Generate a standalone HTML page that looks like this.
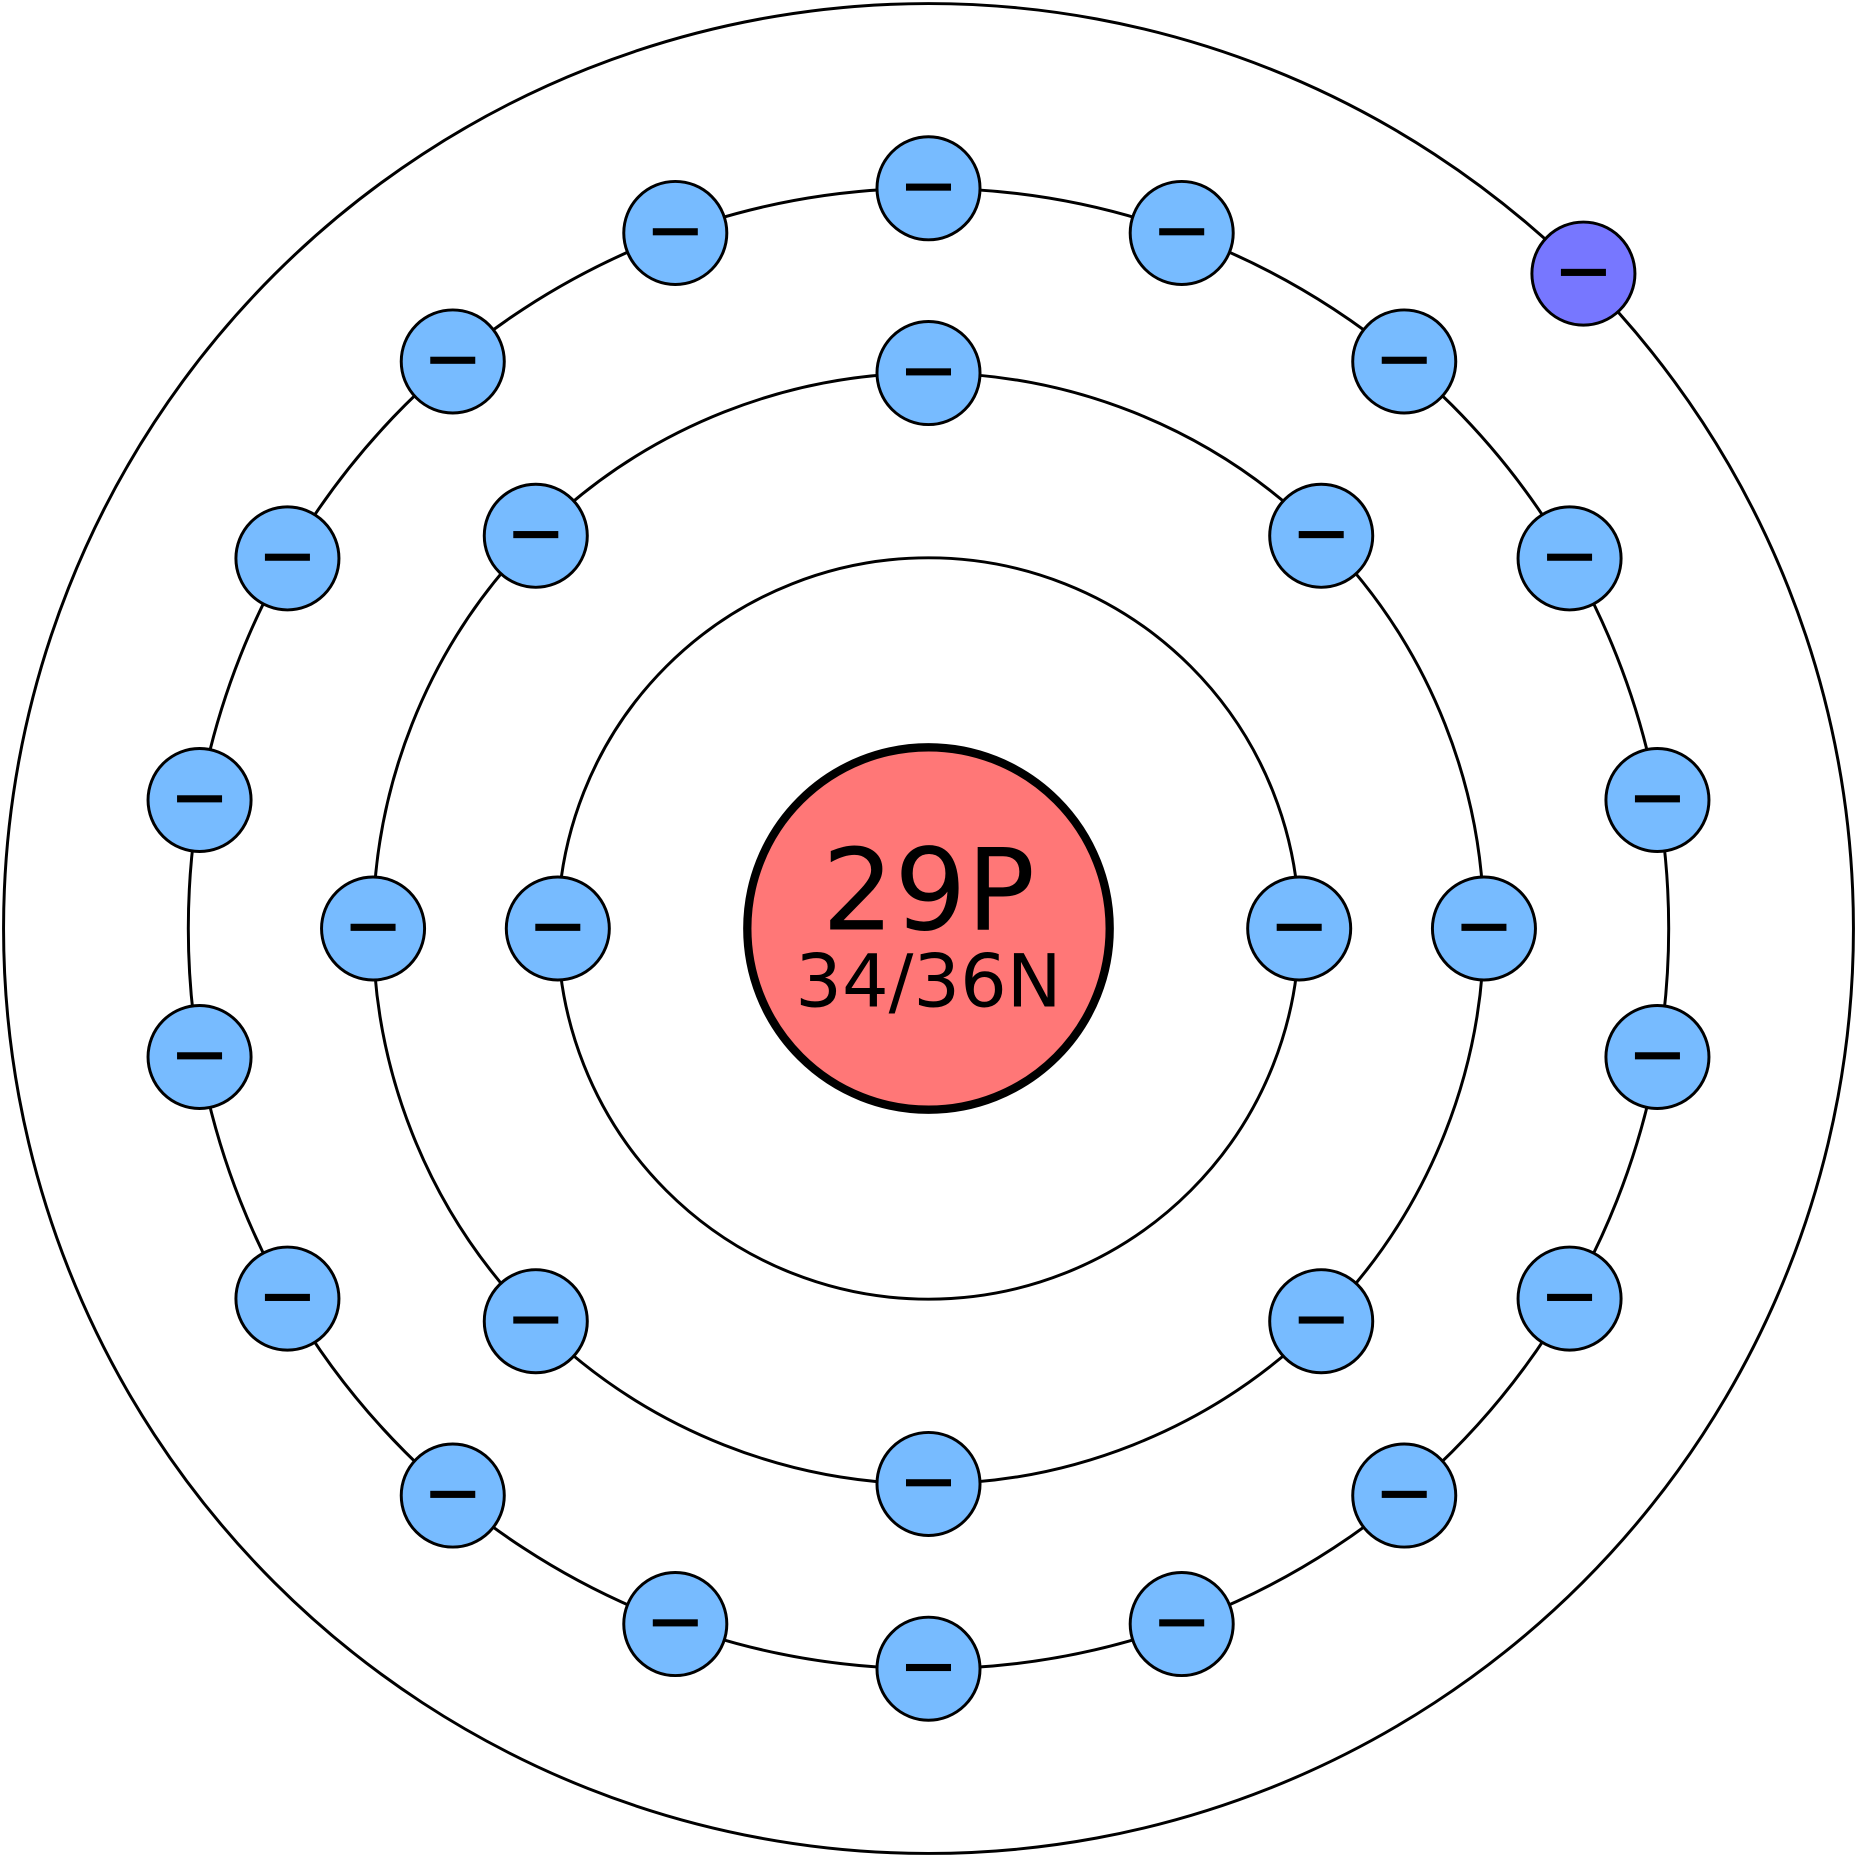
<!DOCTYPE html>
<html><head><meta charset="utf-8"><style>html,body{margin:0;padding:0;background:#fff}svg{display:block}</style></head>
<body>
<svg width="1857" height="1857" viewBox="0 0 1568 1568" xmlns="http://www.w3.org/2000/svg">
<g fill="none" stroke="#000" stroke-width="2.5">
<circle cx="784" cy="784" r="781"/>
<circle cx="784" cy="784" r="625"/>
<circle cx="784" cy="784" r="469"/>
<circle cx="784" cy="784" r="313"/>
</g>
<circle cx="784" cy="784" r="153" fill="#ff7777" stroke="#000" stroke-width="7"/>
<text x="784" y="785" text-anchor="middle" font-family="DejaVu Sans, Liberation Sans, sans-serif" font-size="96">29P</text>
<text x="784" y="850" text-anchor="middle" font-family="DejaVu Sans, Liberation Sans, sans-serif" font-size="62">34/36N</text>
<g stroke="#000" stroke-width="2.5" fill="#77bbff">
<g transform="translate(471,784)"><circle r="43.5"/><rect x="-19" y="-4" width="38" height="6" fill="#000" stroke="none"/></g>
<g transform="translate(1097,784)"><circle r="43.5"/><rect x="-19" y="-4" width="38" height="6" fill="#000" stroke="none"/></g>
<g transform="translate(784,315)"><circle r="43.5"/><rect x="-19" y="-4" width="38" height="6" fill="#000" stroke="none"/></g>
<g transform="translate(784,1253)"><circle r="43.5"/><rect x="-19" y="-4" width="38" height="6" fill="#000" stroke="none"/></g>
<g transform="translate(315,784)"><circle r="43.5"/><rect x="-19" y="-4" width="38" height="6" fill="#000" stroke="none"/></g>
<g transform="translate(1253,784)"><circle r="43.5"/><rect x="-19" y="-4" width="38" height="6" fill="#000" stroke="none"/></g>
<g transform="translate(452.4,452.4)"><circle r="43.5"/><rect x="-19" y="-4" width="38" height="6" fill="#000" stroke="none"/></g>
<g transform="translate(1115.6,452.4)"><circle r="43.5"/><rect x="-19" y="-4" width="38" height="6" fill="#000" stroke="none"/></g>
<g transform="translate(452.4,1115.6)"><circle r="43.5"/><rect x="-19" y="-4" width="38" height="6" fill="#000" stroke="none"/></g>
<g transform="translate(1115.6,1115.6)"><circle r="43.5"/><rect x="-19" y="-4" width="38" height="6" fill="#000" stroke="none"/></g>
<g transform="translate(784,159)"><circle r="43.5"/><rect x="-19" y="-4" width="38" height="6" fill="#000" stroke="none"/></g>
<g transform="translate(784,1409)"><circle r="43.5"/><rect x="-19" y="-4" width="38" height="6" fill="#000" stroke="none"/></g>
<g transform="translate(168.5,675.5)"><circle r="43.5"/><rect x="-19" y="-4" width="38" height="6" fill="#000" stroke="none"/></g>
<g transform="translate(1399.5,675.5)"><circle r="43.5"/><rect x="-19" y="-4" width="38" height="6" fill="#000" stroke="none"/></g>
<g transform="translate(168.5,892.5)"><circle r="43.5"/><rect x="-19" y="-4" width="38" height="6" fill="#000" stroke="none"/></g>
<g transform="translate(1399.5,892.5)"><circle r="43.5"/><rect x="-19" y="-4" width="38" height="6" fill="#000" stroke="none"/></g>
<g transform="translate(242.7,471.5)"><circle r="43.5"/><rect x="-19" y="-4" width="38" height="6" fill="#000" stroke="none"/></g>
<g transform="translate(1325.3,471.5)"><circle r="43.5"/><rect x="-19" y="-4" width="38" height="6" fill="#000" stroke="none"/></g>
<g transform="translate(242.7,1096.5)"><circle r="43.5"/><rect x="-19" y="-4" width="38" height="6" fill="#000" stroke="none"/></g>
<g transform="translate(1325.3,1096.5)"><circle r="43.5"/><rect x="-19" y="-4" width="38" height="6" fill="#000" stroke="none"/></g>
<g transform="translate(382.3,305.2)"><circle r="43.5"/><rect x="-19" y="-4" width="38" height="6" fill="#000" stroke="none"/></g>
<g transform="translate(1185.7,305.2)"><circle r="43.5"/><rect x="-19" y="-4" width="38" height="6" fill="#000" stroke="none"/></g>
<g transform="translate(382.3,1262.8)"><circle r="43.5"/><rect x="-19" y="-4" width="38" height="6" fill="#000" stroke="none"/></g>
<g transform="translate(1185.7,1262.8)"><circle r="43.5"/><rect x="-19" y="-4" width="38" height="6" fill="#000" stroke="none"/></g>
<g transform="translate(570.2,196.7)"><circle r="43.5"/><rect x="-19" y="-4" width="38" height="6" fill="#000" stroke="none"/></g>
<g transform="translate(997.8,196.7)"><circle r="43.5"/><rect x="-19" y="-4" width="38" height="6" fill="#000" stroke="none"/></g>
<g transform="translate(570.2,1371.3)"><circle r="43.5"/><rect x="-19" y="-4" width="38" height="6" fill="#000" stroke="none"/></g>
<g transform="translate(997.8,1371.3)"><circle r="43.5"/><rect x="-19" y="-4" width="38" height="6" fill="#000" stroke="none"/></g>
<g transform="translate(1337,231)"><circle r="43.5" fill="#7777ff"/><rect x="-19" y="-4" width="38" height="6" fill="#000" stroke="none"/></g>
</g>
</svg>
</body></html>
